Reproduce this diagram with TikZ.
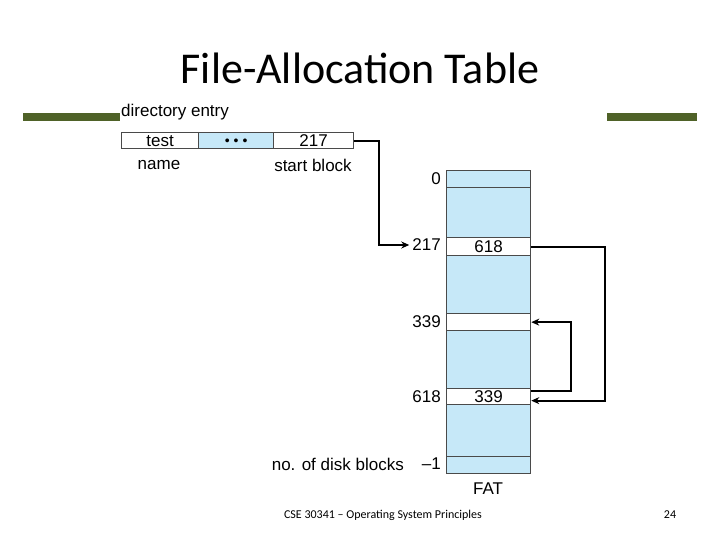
\documentclass[tikz,border=0pt]{standalone}
\usepackage{fontspec}
\setmainfont{Liberation Sans}
\newfontfamily\calib{Carlito}
\usetikzlibrary{arrows.meta,calc}
\definecolor{fatblue}{HTML}{C6E8F8}
\definecolor{barolive}{HTML}{4F6228}
\definecolor{edgegray}{HTML}{4A4A4A}
\begin{document}
\begin{tikzpicture}[x=1pt,y=-1pt,
  lbl/.style={font=\fontsize{17}{19}\selectfont, inner sep=0pt},
  cellbox/.style={draw=edgegray, line width=1.3pt, minimum height=16pt, inner sep=0pt, anchor=north west, font=\fontsize{17}{19}\selectfont},
  fatrow/.style={fill=white, draw=edgegray, line width=1.3pt, minimum width=84pt, inner sep=0pt, anchor=north west, font=\fontsize{17}{19}\selectfont},
  arr/.style={line width=1.8pt, -{Stealth[length=8pt,width=7pt]}},
  plain/.style={line width=1.8pt}]
\useasboundingbox (0,0) rectangle (720,540);
\fill[white] (0,0) rectangle (720,540);
% title
\node[font=\calib\fontsize{44}{48}\selectfont, inner sep=0pt] (title) at (360,68) {File-Allocation Table};
% olive bars
\fill[barolive] (23,113) rectangle (120,121);
\fill[barolive] (607,113) rectangle (697,121);
% directory entry
\node[lbl, anchor=west] (direntry) at (121,112) {directory entry};
\node[cellbox, minimum width=77pt] (ctest) at (121,132) {test};
\node[cellbox, minimum width=75pt, fill=fatblue] (cdots) at (198,132) {\raisebox{-4.5pt}[0pt][0pt]{\fontsize{14}{14}\selectfont\textbullet\hspace{4pt}\textbullet\hspace{4pt}\textbullet}};
\node[cellbox, minimum width=80pt] (c217) at (273,132) {217};
\node[lbl] (lname) at (159,165) {name};
\node[lbl] (lstart) at (313,165) {start block};
% FAT column
\node[fill=fatblue, draw=edgegray, line width=1.3pt, minimum width=84pt, minimum height=303pt, inner sep=0pt, anchor=north west] (fat) at (446,170) {};
\node[fatrow, fill=fatblue, minimum height=17pt] (r0) at (446,170) {};
\draw[edgegray, line width=1.8pt] (446,187.5) -- (530,187.5);
\node[fatrow, minimum height=18pt] (r217) at (446,237) {618};
\node[fatrow, minimum height=17pt] (r339) at (446,313) {};
\node[fatrow, minimum height=16pt] (r618) at (446,388) {339};
\node[fatrow, fill=fatblue, minimum height=17pt] (rlast) at (446,456) {};
% row labels
\node[lbl, anchor=east] (l0) at (441,179) {0};
\node[lbl, anchor=east] (l217) at (441,245) {217};
\node[lbl, anchor=east] (l339) at (441,322) {339};
\node[lbl, anchor=east] (l618) at (441,397) {618};
\node[lbl, anchor=east] (lm1) at (441,464) {\textendash1};
\node[lbl, anchor=east] (lnum) at (404,464) {no. of disk blocks};
\node[lbl] (lfat) at (488,489) {FAT};
% connectors
\draw[arr] (c217.east) -- ++(25,0) |- ([xshift=-3pt]l217.west);
\draw[arr] (r217.east) -- ++(74,0) |- ([yshift=-4pt]r618.east);
\draw[arr] ([yshift=6pt]r618.east) -- ++(40,0) |- (r339.east);
% footer
\node[font=\calib\fontsize{12}{14}\selectfont, inner sep=0pt] (footer) at (383,515) {CSE 30341 \textendash{} Operating System Principles};
\node[font=\calib\fontsize{12}{14}\selectfont, inner sep=0pt] (pagenum) at (670,515) {24};
\end{tikzpicture}
\end{document}
